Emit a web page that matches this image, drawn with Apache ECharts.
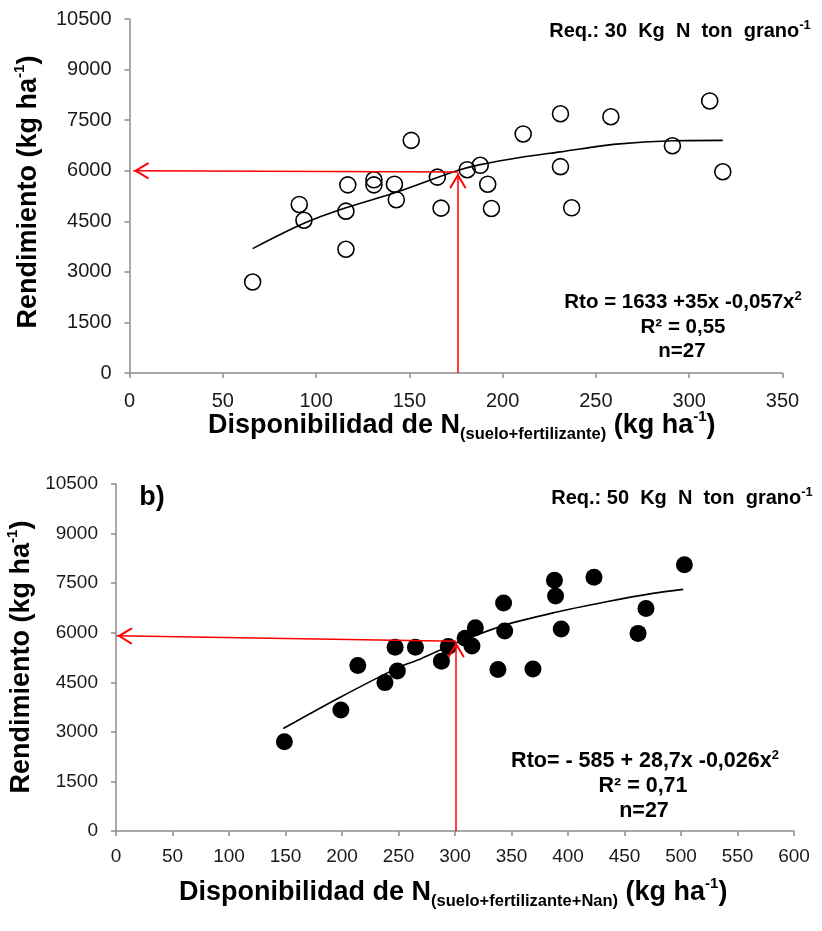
<!DOCTYPE html>
<html>
<head>
<meta charset="utf-8">
<script src="https://cdn.jsdelivr.net/npm/echarts@6/dist/echarts.min.js"></script>
<style>
html, body { margin: 0; padding: 0; background: #fff; }
#main { width: 822px; height: 931px; }
</style>
</head>
<body>
<div id="main"></div>
<script>
// panel a) N suelo + fertilizante
var topN    = [66, 91, 93.5, 117, 116, 116, 131, 131, 142, 143, 151, 165, 167, 181, 188, 192, 194, 211, 231, 231, 237, 258, 291, 311, 318];
var topRend = [2700, 5000, 4530, 5580, 4800, 3670, 5730, 5580, 5600, 5140, 6900, 5810, 4890, 6030, 6160, 5600, 4880, 7090, 7690, 6120, 4900, 7600, 6740, 8070, 5970];
var topFitN    = [66, 93.5, 116, 143, 175, 188, 210, 231, 261, 291, 318];
var topFitRend = [3690, 4440, 4900, 5360, 5990, 6180, 6400, 6560, 6790, 6890, 6900];
var topArrowN = 176, topArrowRend = 5960, topArrowRendLeft = 6000;

// panel b) N suelo + fertilizante + Nan
var botN    = [149, 199, 214, 238, 247, 249, 265, 288, 294, 309, 315, 318, 338, 343, 344, 369, 388, 389, 394, 423, 462, 469, 503];
var botRend = [2700, 3660, 5010, 4490, 5560, 4840, 5560, 5140, 5580, 5830, 5600, 6150, 4890, 6900, 6050, 4900, 7590, 7110, 6110, 7680, 5980, 6735, 8060];
var botFitN    = [148, 198, 251, 269, 301.5, 344, 387, 434, 475, 502];
var botFitRend = [3100, 4040, 4967, 5200, 5694, 6230, 6602, 6935, 7190, 7311];
var botArrowN = 301, botArrowRend = 5745, botArrowRendLeft = 5906;

var yTicks = [0, 10500, 1500];   // min, max, intervalo

function zip(a, b) {
    return a.map(function (v, i) { return [v, b[i]]; });
}

var font = 'Liberation Sans, Arial, sans-serif';
// punta de flecha abierta, con la punta en el centro del recuadro
var chevron = 'path://M5,0 L5.01,0 Z M5,10 L10,18.6 L9.1,19.4 L5,12.3 L0.9,19.4 L0,18.6 Z';

function arrows(xv, yv, yLeft, xLeft) {
    return {
        silent: true,
        animation: false,
        symbol: ['none', chevron],
        symbolSize: [17, 32],
        label: { show: false },
        lineStyle: { color: '#ff0000', width: 1.5, type: 'solid', opacity: 1 },
        emphasis: { disabled: true },
        data: [
            [{ coord: [xv, yv] }, { coord: [xLeft, yLeft] }],
            [{ coord: [xv, 0] }, { coord: [xv, yv - 20] }]
        ]
    };
}

function xAxisOf(idx, max, size, margin) {
    return {
        gridIndex: idx, type: 'value', min: 0, max: max, interval: 50,
        splitLine: { show: false },
        axisLine: { onZero: false, lineStyle: { color: '#8c8c8c', width: 1.5 } },
        axisTick: { show: true, length: 5, lineStyle: { color: '#8c8c8c', width: 1.5 } },
        axisLabel: { color: '#1a1a1a', fontSize: size, fontFamily: font, margin: margin }
    };
}

function yAxisOf(idx, size) {
    return {
        gridIndex: idx, type: 'value', min: yTicks[0], max: yTicks[1], interval: yTicks[2],
        splitLine: { show: false },
        axisLine: { show: true, onZero: false, lineStyle: { color: '#8c8c8c', width: 1.5 } },
        axisTick: { show: true, length: 5, lineStyle: { color: '#8c8c8c', width: 1.5 } },
        axisLabel: {
            color: '#1a1a1a', fontSize: size, fontFamily: font, margin: 18,
            formatter: function (v) { return String(v); }
        }
    };
}

var rich = {
    b: { fontSize: 27, fontWeight: 'bold', fontFamily: font, color: '#000', lineHeight: 34 },
    sub: { fontSize: 16.5, fontWeight: 'bold', fontFamily: font, color: '#000', verticalAlign: 'bottom', lineHeight: 19 },
    sup: { fontSize: 15, fontWeight: 'bold', fontFamily: font, color: '#000', verticalAlign: 'top', lineHeight: 19 },
    q: { fontSize: 20, fontWeight: 'bold', fontFamily: font, color: '#000', lineHeight: 24 },
    t: { fontSize: 20.5, fontWeight: 'bold', fontFamily: font, color: '#000', lineHeight: 24 },
    t2: { fontSize: 21.5, fontWeight: 'bold', fontFamily: font, color: '#000', lineHeight: 24 },
    ts: { fontSize: 13, fontWeight: 'bold', fontFamily: font, color: '#000', verticalAlign: 'top', lineHeight: 13 }
};

function txt(x, y, text, align, rot) {
    return {
        type: 'text', x: x, y: y, rotation: rot || 0, silent: true,
        style: { text: text, rich: rich, align: align || 'center', verticalAlign: 'middle' }
    };
}

var chart = echarts.init(document.getElementById('main'));
chart.setOption({
    backgroundColor: '#fff',
    animation: false,
    grid: [
        { left: 129.5, top: 19, width: 653, height: 354, outerBoundsMode: 'none' },
        { left: 116, top: 484, width: 678, height: 347, outerBoundsMode: 'none' }
    ],
    xAxis: [xAxisOf(0, 350, 20, 18), xAxisOf(1, 600, 19, 16)],
    yAxis: [yAxisOf(0, 20), yAxisOf(1, 19)],
    series: [
        {
            type: 'scatter', xAxisIndex: 0, yAxisIndex: 0,
            data: zip(topN, topRend), symbol: 'circle', symbolSize: 16,
            itemStyle: { color: 'rgba(0,0,0,0)', borderColor: '#000', borderWidth: 1.6, opacity: 1 },
            silent: true, z: 3
        },
        {
            type: 'line', xAxisIndex: 0, yAxisIndex: 0,
            data: zip(topFitN, topFitRend), smooth: 0.3, showSymbol: false,
            lineStyle: { color: '#000', width: 1.6 }, silent: true, z: 4,
            markLine: arrows(topArrowN, topArrowRend, topArrowRendLeft, 2)
        },
        {
            type: 'scatter', xAxisIndex: 1, yAxisIndex: 1,
            data: zip(botN, botRend), symbol: 'circle', symbolSize: 17,
            itemStyle: { color: '#000', opacity: 1 }, silent: true, z: 3
        },
        {
            type: 'line', xAxisIndex: 1, yAxisIndex: 1,
            data: zip(botFitN, botFitRend), smooth: 0.3, showSymbol: false,
            lineStyle: { color: '#000', width: 1.6 }, silent: true, z: 4,
            markLine: arrows(botArrowN, botArrowRend, botArrowRendLeft, 0.5)
        }
    ],
    graphic: [
        // panel a)
        txt(680, 31, '{q|Req.: 30  Kg  N  ton  grano}{ts|-1}'),
        txt(683, 302, '{t|Rto = 1633 +35x -0,057x}{ts|2}'),
        txt(683, 327, '{t|R² = 0,55}'),
        txt(682, 351, '{t|n=27}'),
        txt(29, 192, '{b|Rendimiento (kg ha}{sup|-1}{b|)}', 'center', Math.PI / 2),
        txt(208, 426, '{b|Disponibilidad de N}{sub|(suelo+fertilizante)}{b| (kg ha}{sup|-1}{b|)}', 'left'),
        // panel b)
        txt(152, 498, '{b|b)}'),
        txt(682, 498, '{q|Req.: 50  Kg  N  ton  grano}{ts|-1}'),
        txt(645, 761, '{t2|Rto= - 585 + 28,7x -0,026x}{ts|2}'),
        txt(643, 786, '{t2|R² = 0,71}'),
        txt(644, 811, '{t2|n=27}'),
        txt(22, 657, '{b|Rendimiento (kg ha}{sup|-1}{b|)}', 'center', Math.PI / 2),
        txt(179, 893, '{b|Disponibilidad de N}{sub|(suelo+fertilizante+Nan)}{b| (kg ha}{sup|-1}{b|)}', 'left')
    ]
});
</script>
</body>
</html>
